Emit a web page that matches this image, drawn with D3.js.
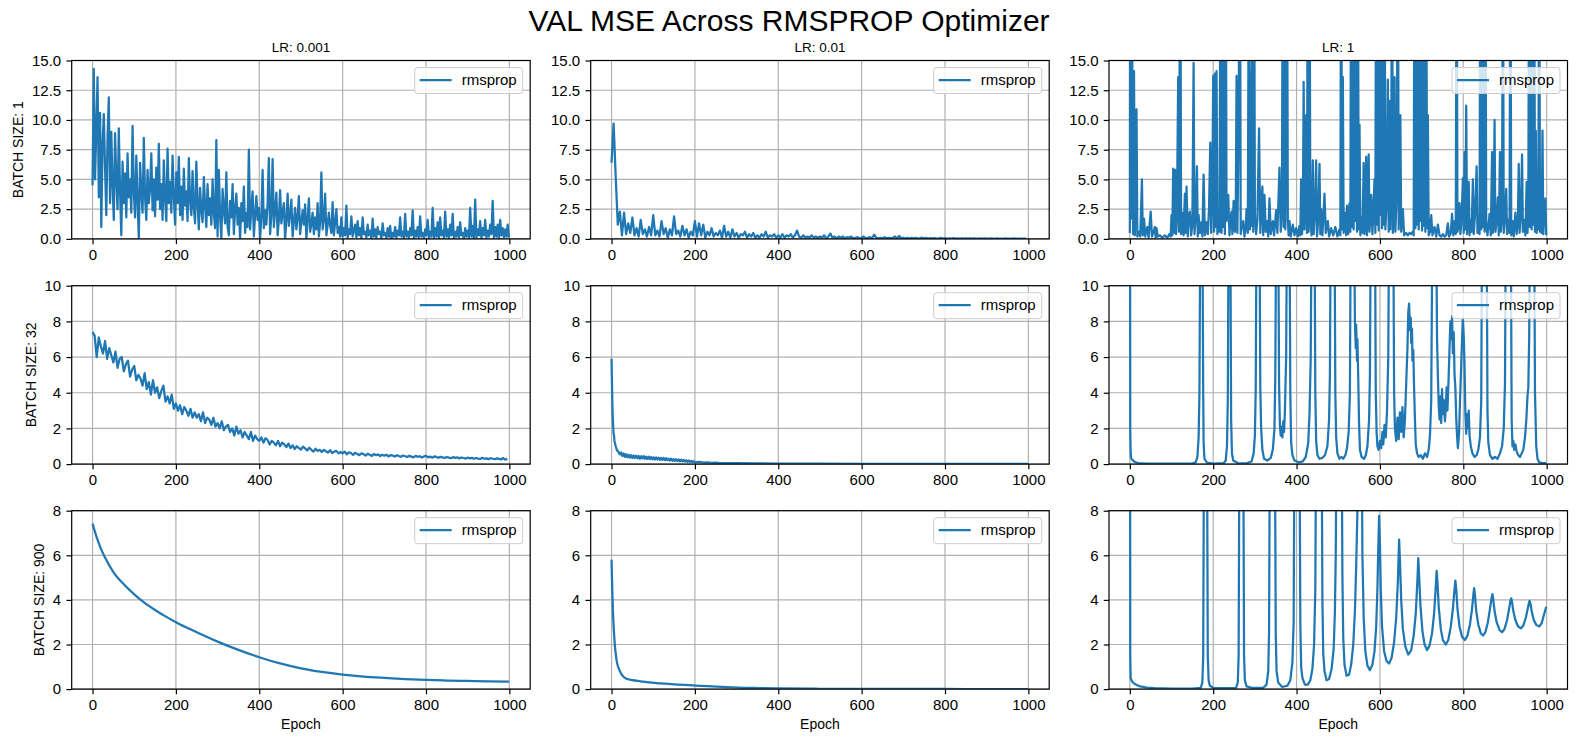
<!DOCTYPE html>
<html>
<head>
<meta charset="utf-8">
<script src="https://cdn.jsdelivr.net/npm/d3@7"></script>
<style>
  body { margin: 0; background: #fff; }
  svg { display: block; }
  text { font-family: "Liberation Sans", Arial, Helvetica, sans-serif; }
</style>
</head>
<body>
<svg width="1578" height="743"></svg>
<script>
const TITLE = "VAL MSE Across RMSPROP Optimizer";
const LR_LABELS = ["LR: 0.001", "LR: 0.01", "LR: 1"];
const BATCH_LABELS = ["BATCH SIZE: 1", "BATCH SIZE: 32", "BATCH SIZE: 900"];
const LEGEND_LABEL = "rmsprop";
const X_TICKS = [0, 200, 400, 600, 800, 1000];
const Y_TICKS = [
    [0, 2.5, 5, 7.5, 10, 12.5, 15],
    [0, 2, 4, 6, 8, 10],
    [0, 2, 4, 6, 8]
];
const Y_MAX = [15, 10, 8];

// B1_LR0001: one value every 3 epochs (0, 3, ..., 999)
const B1_LR0001_STEP = 3;
const B1_LR0001 = [
    4.5, 14.3, 5.0, 9.2, 13.6, 3.5, 10.6, 1.0, 8.0, 10.5,
    6.0, 2.0, 8.5, 11.9, 3.0, 9.0, 4.5, 1.6, 8.9, 5.0,
    2.5, 9.3, 4.0, 0.3, 6.5, 3.0, 5.5, 1.8, 7.2, 3.5,
    5.0, 2.2, 9.5, 4.0, 1.8, 7.0, 3.2, 0.0, 6.4, 4.0,
    2.2, 8.5, 3.5, 1.6, 5.8, 3.0, 4.2, 7.2, 2.4, 5.0,
    1.9, 6.0, 3.3, 8.0, 2.5, 4.6, 1.6, 6.6, 3.4, 1.5,
    7.6, 3.0, 4.8, 2.2, 7.0, 3.6, 1.2, 5.6, 3.0, 6.9,
    2.0, 4.4, 1.6, 5.9, 2.8, 4.0, 1.5, 6.8, 3.2, 2.0,
    5.7, 2.6, 1.3, 6.5, 3.0, 0.8, 4.3, 2.4, 1.4, 5.2,
    2.8, 1.0, 4.6, 2.0, 3.4, 1.2, 5.0, 2.2, 0.9, 8.3,
    0.2, 5.8, 2.0, 0.0, 4.2, 2.4, 1.3, 5.6, 1.0, 0.3,
    3.2, 1.8, 4.6, 0.4, 2.5, 3.8, 1.2, 2.6, 0.0, 3.0,
    1.5, 4.4, 0.5, 2.2, 1.0, 7.5, 0.8, 2.6, 4.0, 0.2,
    2.0, 3.6, 1.6, 2.6, 0.0, 1.8, 5.8, 0.9, 2.4, 1.2,
    3.0, 6.8, 0.4, 2.0, 6.7, 1.0, 2.4, 3.9, 0.3, 1.6,
    4.1, 1.3, 2.2, 3.0, 0.0, 1.6, 3.8, 1.1, 2.0, 3.3,
    0.2, 1.5, 2.6, 0.8, 1.8, 3.6, 0.4, 1.4, 2.4, 1.2,
    2.9, 0.0, 1.6, 3.4, 0.6, 1.2, 2.2, 0.4, 1.8, 0.8,
    3.0, 0.2, 1.4, 5.6, 0.8, 1.6, 3.8, 0.3, 1.2, 2.2,
    1.1, 0.5, 3.1, 0.3, 1.4, 2.5, 0.5, 1.0, 0.2, 1.8,
    0.2, 0.9, 0.3, 2.8, 0.1, 0.8, 0.4, 1.9, 0.2, 0.7,
    1.2, 0.1, 1.5, 0.3, 0.9, 0.0, 1.8, 0.4, 0.6, 0.1,
    1.2, 0.3, 0.7, 0.0, 1.7, 0.2, 0.8, 0.1, 1.0, 0.4,
    0.6, 0.0, 1.3, 0.3, 0.5, 0.1, 0.9, 0.2, 1.1, 0.0,
    0.5, 0.2, 1.0, 0.1, 0.7, 0.3, 1.8, 0.2, 0.6, 0.1,
    2.1, 0.2, 0.6, 0.1, 0.9, 0.3, 2.4, 0.0, 0.7, 0.2,
    1.0, 0.1, 1.9, 0.2, 0.5, 0.1, 0.8, 0.3, 1.6, 0.1,
    0.6, 0.2, 2.6, 0.1, 0.9, 0.2, 1.4, 0.0, 1.8, 0.3,
    0.7, 0.1, 2.3, 0.2, 0.8, 0.1, 1.2, 0.3, 2.1, 0.0,
    0.6, 0.2, 1.0, 0.1, 1.4, 0.3, 0.5, 0.0, 0.9, 0.2,
    0.7, 0.1, 2.6, 0.2, 1.1, 0.0, 3.3, 0.1, 0.8, 0.3,
    1.5, 0.0, 0.9, 0.3, 1.6, 0.1, 0.7, 0.2, 1.2, 0.4,
    3.2, 0.1, 1.0, 0.2, 1.2, 0.0, 1.6, 0.3, 0.9, 0.1,
    0.8, 0.2, 1.2, 0.1
];

// one value every 5 epochs (0, 5, ..., 995)
const B1_LR001_STEP = 5;
const B1_LR001 = [
    6.4, 9.7, 5.2, 1.2, 2.3, 0.3, 2.2, 0.4, 1.3, 0.5,
    1.8, 0.3, 0.9, 0.2, 1.6, 0.4, 0.8, 0.2, 1.0, 0.3,
    2.0, 0.3, 0.7, 0.2, 1.5, 0.4, 0.9, 0.1, 0.8, 0.3,
    1.9, 0.4, 0.7, 0.2, 1.1, 0.3, 0.8, 0.1, 0.6, 0.3,
    1.5, 0.2, 1.3, 0.3, 1.2, 0.1, 0.6, 0.3, 0.9, 0.2,
    0.5, 0.3, 0.7, 0.1, 1.1, 0.2, 0.6, 0.1, 0.8, 0.2,
    0.5, 0.1, 0.4, 0.3, 0.6, 0.1, 0.4, 0.2, 0.5, 0.1,
    0.3, 0.1, 0.4, 0.2, 0.6, 0.1, 0.3, 0.2, 0.4, 0.1,
    0.3, 0.1, 0.4, 0.1, 0.3, 0.2, 0.4, 0.1, 0.3, 0.7,
    0.2, 0.1, 0.3, 0.1, 0.2, 0.1, 0.3, 0.1, 0.2, 0.1,
    0.2, 0.1, 0.3, 0.05, 0.2, 0.45, 0.1, 0.2, 0.05, 0.2,
    0.1, 0.2, 0.05, 0.15, 0.1, 0.2, 0.05, 0.1, 0.15, 0.05,
    0.1, 0.2, 0.05, 0.1, 0.15, 0.05, 0.35, 0.1, 0.05, 0.1,
    0.05, 0.15, 0.05, 0.1, 0.05, 0.1, 0.2, 0.05, 0.25, 0.05,
    0.1, 0.05, 0.08, 0.03, 0.1, 0.05, 0.08, 0.03, 0.06, 0.1,
    0.04, 0.08, 0.03, 0.06, 0.04, 0.07, 0.02, 0.05, 0.1, 0.03,
    0.06, 0.03, 0.05, 0.02, 0.06, 0.03, 0.04, 0.02, 0.05, 0.03,
    0.04, 0.02, 0.05, 0.03, 0.04, 0.02, 0.03, 0.05, 0.02, 0.04,
    0.03, 0.02, 0.04, 0.02, 0.03, 0.05, 0.02, 0.03, 0.02, 0.04,
    0.02, 0.03, 0.02, 0.04, 0.02, 0.03, 0.02, 0.03, 0.02, 0.02
];

// one value every 5 epochs (0, 5, ..., 995)
const B32_LR0001_STEP = 5;
const B32_LR0001 = [
    7.4, 7.2, 6.0, 7.1, 6.6, 6.2, 6.9, 5.9, 6.5, 6.1,
    5.7, 6.3, 5.4, 5.9, 6.0, 5.2, 5.6, 5.8, 4.9, 5.3,
    5.5, 4.7, 5.0, 4.8, 4.4, 5.1, 4.2, 4.6, 3.9, 4.7,
    4.0, 4.3, 3.7, 4.1, 4.4, 3.5, 3.8, 3.4, 3.9, 3.1,
    3.4, 3.0, 3.3, 2.8, 3.2, 3.0, 2.7, 3.1, 2.6, 2.9,
    2.6, 2.8, 2.4, 2.9, 2.3, 2.6, 2.5, 2.2, 2.6, 2.1,
    2.3, 2.0, 2.4, 1.9, 2.1, 2.2, 1.8, 2.0, 1.6, 2.1,
    1.7, 1.9, 1.5, 1.8, 1.6, 1.4, 1.8, 1.3, 1.6, 1.4,
    1.3, 1.5, 1.2, 1.45, 1.35, 1.1, 1.3, 1.2, 1.05, 1.3,
    1.0, 1.2, 1.1, 0.95, 1.15, 0.9, 1.05, 0.85, 1.0, 0.9,
    0.82, 0.98, 0.88, 0.76, 0.92, 0.8, 0.7, 0.86, 0.74, 0.8,
    0.68, 0.8, 0.72, 0.65, 0.78, 0.62, 0.7, 0.74, 0.6, 0.68,
    0.6, 0.7, 0.55, 0.66, 0.62, 0.52, 0.63, 0.57, 0.5, 0.6,
    0.56, 0.48, 0.58, 0.52, 0.46, 0.56, 0.5, 0.54, 0.45, 0.52,
    0.47, 0.53, 0.43, 0.5, 0.48, 0.42, 0.5, 0.45, 0.41, 0.48,
    0.44, 0.4, 0.47, 0.42, 0.38, 0.46, 0.41, 0.44, 0.37, 0.43,
    0.46, 0.38, 0.42, 0.36, 0.43, 0.4, 0.35, 0.41, 0.38, 0.34,
    0.4, 0.36, 0.33, 0.39, 0.35, 0.38, 0.32, 0.37, 0.34, 0.31,
    0.36, 0.32, 0.35, 0.3, 0.34, 0.31, 0.29, 0.35, 0.3, 0.32,
    0.28, 0.33, 0.3, 0.27, 0.32, 0.29, 0.26, 0.34, 0.25, 0.3
];

// series given as [epoch, mse] pairs
const B1_LR1 = [
    [0,0.5],[1,40],[3,1.7],[5,30],[6,14.0],[8,0.4],[10,14.1],[12,0.3],[16,10.9],[18,0.2],
    [22,0.6],[25,0.2],[29,5.0],[31,0.3],[34,1.7],[37,0.2],[40,0.8],[42,1.0],[45,0.1],[50,2.3],
    [53,0.2],[57,0.6],[60,1.0],[62,0.1],[64,0.9],[67,0.2],[72,0.3],[78,0.1],[84,0.3],[90,0.1],
    [95,0.4],[98,0.2],[100,2.0],[102,0.3],[104,5.9],[106,0.5],[109,5.8],[111,0.4],[113,2.0],[116,13.6],
    [118,0.6],[121,30],[123,0.4],[126,2.2],[129,0.3],[132,3.8],[134,0.5],[136,4.4],[139,0.2],[141,1.8],
    [144,2.3],[147,0.3],[150,1.2],[153,14.8],[155,0.4],[158,1.7],[161,6.1],[163,0.2],[165,2.0],[168,0.5],
    [172,1.4],[174,0.2],[177,5.4],[180,0.3],[184,1.4],[187,0.4],[190,2.6],[193,8.1],[195,0.5],[198,4.0],
    [200,13.7],[202,0.6],[204,13.9],[206,1.0],[208,14.1],[210,0.4],[212,2.0],[215,0.6],[218,30],[220,0.5],
    [222,30],[224,1.0],[226,30],[228,0.4],[230,30],[232,1.5],[236,3.7],[239,0.3],[241,1.6],[244,2.3],
    [246,0.4],[249,3.2],[252,0.6],[254,1.2],[256,13.7],[258,0.5],[261,9.5],[264,30],[266,0.4],[269,1.2],
    [272,1.5],[275,0.2],[278,0.9],[280,2.5],[283,0.5],[286,30],[288,0.8],[290,14.0],[292,1.1],[294,30],
    [296,0.6],[298,30],[300,2.0],[303,0.4],[306,1.6],[310,9.3],[313,0.5],[318,4.4],[320,0.3],[323,3.7],
    [326,0.6],[329,1.5],[332,0.2],[335,3.4],[338,0.4],[343,1.5],[346,0.3],[351,2.4],[354,0.5],[359,6.0],
    [362,0.6],[365,3.0],[367,30],[369,1.0],[371,30],[373,0.8],[375,10.0],[377,30],[379,1.6],[381,0.3],
    [383,1.5],[386,0.2],[391,1.2],[395,0.3],[399,0.9],[403,0.2],[407,1.1],[409,0.3],[411,5.0],[413,0.4],
    [415,1.5],[417,13.2],[419,0.8],[421,4.0],[423,10.4],[425,0.5],[427,30],[429,0.6],[431,30],[433,1.8],
    [436,0.3],[439,6.6],[441,0.4],[444,2.1],[447,6.6],[449,0.2],[452,1.6],[455,6.3],[457,0.4],[459,2.5],
    [462,0.3],[467,3.8],[470,0.5],[475,1.5],[478,0.2],[483,0.9],[488,0.3],[493,1.0],[498,0.2],[503,0.8],
    [505,0.3],[507,30],[509,0.8],[511,13.6],[513,0.5],[516,2.2],[518,1.6],[519,0.3],[521,2.8],[524,0.4],
    [527,3.0],[529,0.6],[531,30],[533,1.0],[535,30],[537,0.8],[539,30],[541,1.5],[543,30],[545,0.6],
    [547,30],[549,0.8],[551,9.6],[553,0.3],[555,1.8],[558,0.5],[561,6.4],[563,0.4],[565,2.0],[567,6.9],
    [569,0.3],[571,2.6],[573,7.1],[575,0.6],[579,3.7],[582,0.4],[587,5.0],[589,0.5],[591,30],[593,1.2],
    [595,30],[597,0.7],[599,30],[601,2.0],[603,30],[605,0.9],[607,30],[609,1.2],[611,30],[613,0.8],
    [616,3.0],[619,13.4],[621,0.6],[623,11.6],[625,0.8],[627,4.0],[629,30],[631,0.5],[633,2.0],[635,13.6],
    [637,0.6],[640,3.5],[643,30],[645,0.8],[647,4.2],[649,10.4],[651,0.6],[655,2.5],[658,0.3],[663,0.5],
    [667,0.3],[671,0.5],[675,0.4],[679,0.6],[681,0.3],[683,30],[685,0.9],[687,30],[689,1.2],[691,30],
    [693,0.8],[695,30],[697,1.5],[699,30],[701,0.7],[703,30],[705,1.1],[707,30],[709,0.6],[711,30],
    [713,0.9],[715,10.4],[717,0.3],[720,0.6],[723,2.0],[726,0.3],[731,1.0],[735,0.2],[739,1.2],[743,0.3],
    [747,0.2],[751,0.4],[755,0.2],[759,0.3],[763,1.3],[766,0.2],[770,0.5],[773,2.1],[776,0.3],[779,1.5],
    [782,0.4],[784,30],[786,0.6],[789,1.2],[791,3.0],[793,0.4],[796,1.8],[799,5.1],[801,0.5],[803,7.3],
    [805,0.8],[807,11.2],[809,0.4],[811,2.5],[813,4.8],[815,0.3],[818,1.6],[820,0.6],[823,5.0],[825,0.4],
    [828,2.0],[832,6.1],[834,0.5],[837,2.0],[839,0.4],[841,30],[843,0.8],[845,30],[847,1.0],[849,30],
    [851,0.6],[853,30],[855,1.3],[858,0.3],[863,2.1],[866,0.3],[869,7.3],[871,0.5],[873,2.0],[875,10.0],
    [877,0.6],[880,1.5],[883,3.5],[885,0.3],[888,7.3],[890,0.6],[893,2.0],[895,30],[897,0.5],[900,1.8],
    [903,4.2],[905,0.4],[908,1.6],[911,0.5],[913,30],[915,0.3],[919,1.5],[921,0.2],[925,2.2],[928,0.4],
    [931,1.6],[933,6.3],[935,0.5],[938,2.0],[941,7.1],[943,0.6],[947,1.6],[949,0.3],[952,4.8],[954,0.5],
    [956,2.0],[958,30],[960,1.0],[962,30],[964,0.8],[966,30],[968,1.2],[970,30],[972,0.6],[974,9.1],
    [976,0.5],[978,2.5],[980,0.8],[982,30],[984,0.6],[986,3.0],[988,0.5],[990,9.1],[992,0.4],[994,2.0],
    [997,3.4],[999,0.3]
];

const B32_LR001 = [
    [0,5.9],[1,4.6],[2,3.4],[3,2.6],[4,2.1],[5,1.7],[6,1.6],[7,1.3],[8,1.2],[10,1.0],
    [12,0.85],[14,0.75],[16,0.7],[18,0.62],[20,0.55],[23,0.65],[26,0.45],[29,0.6],[32,0.4],[35,0.55],
    [38,0.38],[41,0.52],[44,0.36],[47,0.5],[50,0.35],[53,0.48],[56,0.34],[59,0.47],[62,0.33],[65,0.46],
    [68,0.3],[71,0.44],[74,0.32],[77,0.45],[80,0.3],[83,0.42],[86,0.29],[89,0.41],[92,0.28],[95,0.4],
    [98,0.27],[101,0.38],[104,0.26],[107,0.37],[110,0.26],[113,0.36],[116,0.24],[119,0.35],[122,0.24],[125,0.34],
    [128,0.22],[131,0.33],[134,0.22],[137,0.31],[140,0.2],[143,0.3],[146,0.19],[149,0.28],[152,0.18],[155,0.27],
    [158,0.17],[161,0.26],[164,0.16],[167,0.25],[170,0.15],[173,0.23],[176,0.14],[179,0.22],[182,0.13],[185,0.2],
    [188,0.12],[191,0.18],[194,0.11],[197,0.16],[200,0.1],[210,0.13],[220,0.08],[230,0.1],[240,0.07],[250,0.08],
    [260,0.06],[280,0.06],[300,0.05],[350,0.04],[400,0.03],[500,0.02],[600,0.015],[800,0.01],[999,0.01]
];

const B32_LR1 = [
    [0,30],[1,2.0],[2,0.6],[3,0.35],[5,0.25],[8,0.2],[12,0.12],[20,0.06],[40,0.03],[80,0.02],
    [120,0.02],[150,0.03],[158,0.1],[162,0.4],[165,1.5],[167,4],[169,14],[174,14],[176,4],[177,1.2],
    [179,0.3],[185,0.08],[200,0.03],[225,0.05],[230,0.2],[233,1.0],[235,3.5],[237,14],[241,14],[243,2.5],
    [245,0.6],[248,0.2],[260,0.05],[280,0.04],[292,0.15],[297,0.6],[300,1.6],[302,4.2],[304,14],[311,14],
    [313,4.3],[315,2.0],[318,0.8],[322,0.3],[330,0.2],[338,0.35],[343,0.8],[347,2.0],[349,5.0],[351,14],
    [356,14],[358,4.5],[360,2.2],[362,1.6],[364,2.1],[366,1.5],[368,2.4],[370,1.8],[372,3.0],[375,6],
    [377,14],[383,14],[385,4],[387,1.2],[390,0.5],[395,0.2],[405,0.1],[415,0.15],[422,0.4],[428,1.2],
    [431,2.8],[434,6],[436,14],[443,14],[445,4],[447,1.3],[450,0.5],[455,0.3],[462,0.35],[468,0.5],
    [474,1.0],[478,2.5],[480,5],[482,14],[491,14],[493,4],[495,1.5],[498,0.6],[503,0.3],[508,0.4],
    [512,0.3],[517,0.5],[521,0.9],[525,1.8],[528,4],[530,14],[538,14],[540,8],[542,6.5],[543,7.8],
    [545,5.8],[546,7.0],[548,4.8],[550,2.2],[552,0.8],[556,0.4],[562,0.3],[566,0.5],[570,1.0],[574,2.5],
    [576,5],[578,14],[588,14],[590,4],[592,1.8],[594,1.0],[597,0.8],[600,1.3],[603,0.9],[606,1.8],
    [608,1.1],[611,2.2],[614,1.5],[617,3.0],[620,6],[622,14],[632,14],[634,4],[636,2.0],[639,1.3],
    [642,2.6],[645,1.4],[648,2.9],[651,1.8],[654,3.2],[657,1.5],[660,2.5],[663,4.5],[666,6.5],[668,8.5],
    [670,9.0],[672,7.5],[674,8.2],[675,6.8],[677,7.6],[678,5.8],[680,6.4],[682,4.2],[684,2.5],[686,1.1],
    [689,0.6],[693,0.4],[698,0.5],[703,0.3],[708,0.6],[713,0.4],[717,0.8],[720,1.6],[723,3.5],[726,14],
    [735,14],[737,7],[739,5],[741,3.3],[743,2.5],[745,3.8],[747,2.3],[749,4.2],[751,2.8],[753,3.6],
    [756,2.4],[758,3.2],[760,4.3],[762,3.0],[765,5.0],[767,6.5],[769,8.0],[771,7.0],[773,8.3],[775,6.2],
    [777,7.4],[779,5.0],[781,4.3],[783,2.6],[785,1.6],[787,0.9],[790,1.8],[792,3.5],[795,5.5],[797,7.0],
    [799,8.2],[801,7.2],[803,5.5],[805,2.8],[807,1.7],[809,2.8],[811,2.0],[813,3.0],[815,1.6],[818,1.0],
    [822,0.6],[827,0.4],[832,0.5],[836,0.8],[840,1.5],[843,3.5],[845,14],[856,14],[858,3],[860,1.2],
    [864,0.5],[870,0.3],[876,0.4],[882,0.3],[888,0.6],[893,1.0],[897,2.0],[900,4.5],[902,14],[914,14],
    [916,2.5],[918,1.0],[920,1.3],[922,0.8],[925,1.1],[928,0.7],[932,0.5],[936,0.4],[940,0.6],[944,0.8],
    [948,1.5],[951,2.4],[954,3.8],[956,4.3],[958,7],[960,14],[970,14],[972,4],[975,1.0],[978,0.3],
    [982,0.1],[990,0.05],[999,0.05]
];

const B900_LR0001 = [
    [0,7.42],[10,6.8],[20,6.3],[30,5.9],[50,5.25],[75,4.7],[100,4.25],[125,3.87],[150,3.55],[175,3.26],
    [200,3.0],[250,2.55],[300,2.13],[350,1.76],[400,1.43],[450,1.15],[500,0.93],[550,0.77],[600,0.65],[650,0.56],
    [700,0.5],[750,0.45],[800,0.41],[850,0.385],[900,0.365],[950,0.345],[999,0.33]
];

const B900_LR001 = [
    [0,5.8],[2,4.3],[4,3.2],[6,2.5],[8,1.95],[10,1.6],[12,1.3],[15,1.05],[19,0.85],[24,0.66],
    [30,0.53],[38,0.45],[50,0.4],[70,0.35],[90,0.3],[115,0.26],[150,0.21],[195,0.17],[230,0.13],[276,0.09],
    [320,0.06],[355,0.045],[400,0.03],[500,0.015],[600,0.01],[800,0.005],[999,0.003]
];

const B900_LR1 = [
    [0,30],[1,1.5],[2,0.5],[5,0.35],[10,0.25],[17,0.18],[25,0.12],[41,0.07],[60,0.04],[100,0.02],
    [150,0.02],[170,0.05],[174,0.3],[176,1.5],[178,12],[185,12],[187,1.5],[189,0.4],[192,0.15],[200,0.06],
    [230,0.04],[255,0.06],[259,0.3],[261,1.5],[263,12],[272,12],[274,1.5],[276,0.4],[280,0.12],[295,0.05],
    [320,0.06],[328,0.2],[332,0.8],[334,2.5],[336,12],[348,12],[350,2.5],[352,0.8],[356,0.3],[365,0.1],
    [378,0.15],[385,0.4],[390,1.2],[393,3.0],[395,12],[407,12],[409,3],[411,1.0],[414,0.5],[420,0.2],
    [427,0.2],[433,0.4],[438,0.9],[442,2.0],[445,4.5],[447,12],[460,12],[462,4],[464,1.6],[467,0.8],
    [472,0.4],[478,0.45],[484,0.9],[489,1.8],[492,3.5],[494,6],[496,12],[508,12],[510,5],[512,2.3],
    [515,1.1],[520,0.6],[526,0.65],[531,1.1],[536,2.0],[540,3.5],[543,5.5],[546,8],[548,12],[556,12],
    [558,6],[561,3.2],[565,1.7],[570,1.05],[576,0.85],[582,1.1],[587,1.7],[591,2.8],[594,4.5],[596,6.3],
    [598,7.77],[600,6.5],[602,4.5],[605,2.8],[610,1.7],[616,1.25],[622,1.15],[628,1.4],[634,2.1],[639,3.2],
    [643,4.8],[646,6.7],[648,5.8],[651,4.0],[655,2.7],[661,1.9],[668,1.55],[675,1.75],[681,2.4],[686,3.4],
    [690,4.9],[692,5.87],[694,5.1],[697,3.8],[702,2.6],[707,2.0],[713,1.75],[719,1.95],[725,2.5],[730,3.4],
    [734,4.6],[736,5.3],[738,4.8],[741,3.7],[746,2.7],[751,2.2],[758,2.0],[764,2.2],[770,2.8],[775,3.6],
    [779,4.5],[781,4.86],[783,4.5],[786,3.6],[791,2.8],[797,2.35],[804,2.2],[810,2.4],[816,2.9],[821,3.6],
    [824,4.2],[826,4.53],[828,4.2],[831,3.5],[836,2.9],[842,2.5],[847,2.4],[853,2.55],[859,3.0],[864,3.6],
    [868,4.1],[870,4.26],[872,4.0],[875,3.5],[880,3.0],[887,2.65],[893,2.55],[899,2.7],[905,3.1],[910,3.6],
    [913,3.95],[915,4.07],[917,3.9],[920,3.5],[925,3.1],[931,2.82],[938,2.72],[944,2.85],[950,3.2],[955,3.65],
    [958,3.9],[959,3.96],[961,3.85],[964,3.5],[969,3.1],[975,2.88],[982,2.81],[988,2.95],[993,3.3],[999,3.69]
];

// rows = batch size, cols = learning rate
const PANELS = [
    [[B1_LR0001, B1_LR0001_STEP], [B1_LR001, B1_LR001_STEP], [B1_LR1]],
    [[B32_LR0001, B32_LR0001_STEP], [B32_LR001], [B32_LR1]],
    [[B900_LR0001], [B900_LR001], [B900_LR1]]
];
const SMOOTH = [[false, false, false], [false, false, false], [true, true, false]];

const COLOR = "#1f77b4";
const colLeft = [71.7, 590.7, 1109];
const rowTop = [60.5, 285.7, 510.7];
const plotW = 458.5;
const plotH = 178.4;

const svg = d3.select("svg");

// uniform arrays -> [epoch, value]; pair arrays pass through
const toPoints = (s, step) => step ? s.map((v, i) => [i * step, v]) : s;

svg.append("text")
    .attr("x", 789)
    .attr("y", 31)
    .attr("text-anchor", "middle")
    .attr("font-size", "30px")
    .attr("fill", "#000")
    .text(TITLE);

const x = d3.scaleLinear().domain([-50, 1050]).range([0, plotW]);

PANELS.forEach((row, r) => {
    const y = d3.scaleLinear().domain([0, Y_MAX[r]]).range([plotH, 0]);

    row.forEach(([series, step], c) => {
        const g = svg.append("g")
            .attr("transform", `translate(${colLeft[c]},${rowTop[r]})`);

        // grid
        g.append("g").selectAll("line")
            .data(X_TICKS)
            .enter().append("line")
                .attr("x1", d => x(d)).attr("x2", d => x(d))
                .attr("y1", 0).attr("y2", plotH)
                .attr("stroke", "#b0b0b0").attr("stroke-width", 1.2);
        g.append("g").selectAll("line")
            .data(Y_TICKS[r])
            .enter().append("line")
                .attr("x1", 0).attr("x2", plotW)
                .attr("y1", d => y(d)).attr("y2", d => y(d))
                .attr("stroke", "#b0b0b0").attr("stroke-width", 1.2);

        const clipId = `clip-${r}-${c}`;
        g.append("clipPath").attr("id", clipId)
            .append("rect").attr("width", plotW).attr("height", plotH);

        const line = d3.line()
            .x(d => x(d[0]))
            .y(d => y(d[1]))
            .curve(SMOOTH[r][c] ? d3.curveMonotoneX : d3.curveLinear);

        g.append("path")
            .datum(toPoints(series, step))
            .attr("clip-path", `url(#${clipId})`)
            .attr("fill", "none")
            .attr("stroke", COLOR)
            .attr("stroke-width", 2.25)
            .attr("stroke-linejoin", "round")
            .attr("d", line);

        // spines
        g.append("rect")
            .attr("width", plotW).attr("height", plotH)
            .attr("fill", "none").attr("stroke", "#000").attr("stroke-width", 1.2);

        // axes
        const xAxis = g.append("g")
            .attr("transform", `translate(0,${plotH})`)
            .call(d3.axisBottom(x).tickValues(X_TICKS).tickSize(5.25).tickPadding(5.25)
                .tickFormat(d3.format("d")));
        const yAxis = g.append("g")
            .call(d3.axisLeft(y).tickValues(Y_TICKS[r]).tickSize(5.25).tickPadding(5.25)
                .tickFormat(r === 0 ? d3.format(".1f") : d3.format("d")));
        [xAxis, yAxis].forEach(a => {
            a.select(".domain").remove();
            a.selectAll(".tick line").attr("stroke", "#000").attr("stroke-width", 1.2);
            a.selectAll(".tick text").attr("fill", "#000").attr("font-size", "15px")
                .style("font-family", '"Liberation Sans", Arial, sans-serif');
        });

        // legend
        const lg = g.append("g");
        const lt = lg.append("text")
            .attr("x", 47).attr("y", 17.8)
            .attr("font-size", "15px").attr("fill", "#000")
            .text(LEGEND_LABEL);
        const boxW = 47 + lt.node().getComputedTextLength() + 6;
        lg.insert("rect", "text")
            .attr("width", boxW).attr("height", 26)
            .attr("rx", 3).attr("ry", 3)
            .attr("fill", "#fff").attr("fill-opacity", 0.8)
            .attr("stroke", "#cccccc").attr("stroke-width", 1);
        lg.insert("line", "text")
            .attr("x1", 5).attr("x2", 37)
            .attr("y1", 12.5).attr("y2", 12.5)
            .attr("stroke", COLOR).attr("stroke-width", 2.25);
        lg.attr("transform", `translate(${plotW - 7.5 - boxW},7)`);

        if (r === 0) {
            g.append("text")
                .attr("x", plotW / 2).attr("y", -9)
                .attr("text-anchor", "middle")
                .attr("font-size", "13.5px").attr("fill", "#000")
                .text(LR_LABELS[c]);
        }
        if (c === 0) {
            const bb = yAxis.node().getBBox();
            const lx = bb.x - 6 - 3;
            g.append("text")
                .attr("transform", `translate(${lx},${plotH / 2}) rotate(-90)`)
                .attr("text-anchor", "middle")
                .attr("font-size", "14px").attr("fill", "#000")
                .text(BATCH_LABELS[r]);
        }
        if (r === 2) {
            g.append("text")
                .attr("x", x(500)).attr("y", plotH + 40)
                .attr("text-anchor", "middle")
                .attr("font-size", "14px").attr("fill", "#000")
                .text("Epoch");
        }
    });
});
</script>
</body>
</html>
